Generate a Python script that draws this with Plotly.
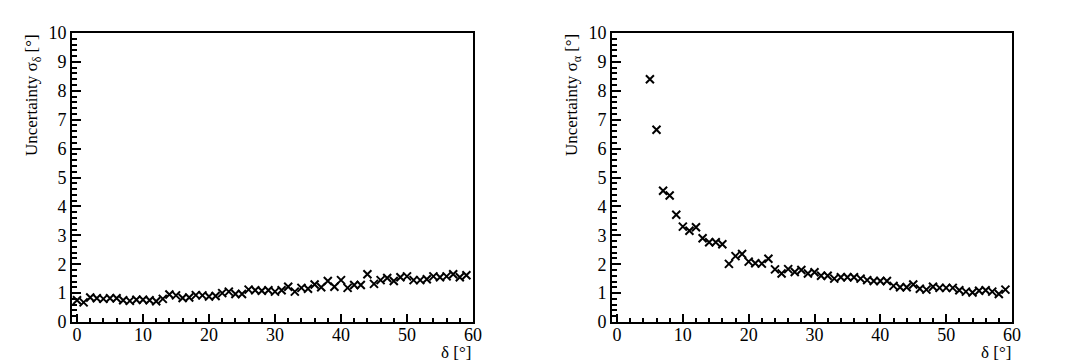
import plotly.graph_objects as go

# ---- data ----
delta_left = list(range(0, 60))
sigma_delta = [0.75, 0.68, 0.85, 0.82, 0.80, 0.82, 0.82, 0.75, 0.73, 0.77,
               0.77, 0.75, 0.72, 0.80, 0.95, 0.92, 0.83, 0.85, 0.93, 0.92,
               0.88, 0.90, 1.00, 1.05, 0.97, 0.97, 1.12, 1.10, 1.08, 1.10,
               1.05, 1.10, 1.22, 1.05, 1.18, 1.15, 1.30, 1.20, 1.42, 1.22,
               1.45, 1.18, 1.28, 1.28, 1.65, 1.32, 1.45, 1.52, 1.42, 1.55,
               1.58, 1.45, 1.45, 1.48, 1.58, 1.55, 1.58, 1.65, 1.55, 1.62]

delta_right = list(range(5, 60))
sigma_alpha = [8.40, 6.65, 4.54, 4.38, 3.71, 3.30, 3.16, 3.28, 2.90, 2.76,
               2.76, 2.69, 2.01, 2.28, 2.35, 2.09, 2.03, 2.02, 2.19, 1.82,
               1.68, 1.83, 1.73, 1.80, 1.68, 1.72, 1.60, 1.60, 1.50, 1.55,
               1.55, 1.55, 1.50, 1.45, 1.42, 1.42, 1.42, 1.25, 1.20, 1.20,
               1.30, 1.15, 1.12, 1.22, 1.18, 1.18, 1.18, 1.10, 1.05, 1.02,
               1.08, 1.10, 1.05, 0.97, 1.12]

x_ticks = [0, 10, 20, 30, 40, 50, 60]
y_ticks = list(range(0, 11))

W, H = 1074, 363
FONT = "Liberation Serif, Times New Roman, serif"

fig = go.Figure()
fig.add_trace(go.Scatter(x=delta_left, y=sigma_delta, mode="markers",
                         marker=dict(symbol="x-thin", size=8, color="black",
                                     line=dict(width=2, color="black")),
                         xaxis="x", yaxis="y", showlegend=False))
fig.add_trace(go.Scatter(x=delta_right, y=sigma_alpha, mode="markers",
                         marker=dict(symbol="x-thin", size=8, color="black",
                                     line=dict(width=2, color="black")),
                         xaxis="x2", yaxis="y2", showlegend=False))

ydom = [41 / H, 330 / H]

def xax(dom, anchor):
    return dict(domain=dom, range=[-0.76, 60.0], anchor=anchor, automargin=False,
                showline=True, linecolor="black", linewidth=2, mirror=True,
                ticks="inside", ticklen=8, tickwidth=2, tickcolor="black",
                tickvals=x_ticks, showgrid=False, zeroline=False,
                ticklabelstandoff=-5,
                tickfont=dict(family=FONT, size=18, color="black"),
                minor=dict(ticks="inside", ticklen=4, tickwidth=2,
                           tickcolor="black", dtick=2, showgrid=False))

def yax(anchor):
    return dict(domain=ydom, range=[0, 10], anchor=anchor, automargin=False,
                showline=True, linecolor="black", linewidth=2, mirror=True,
                ticks="inside", ticklen=9, tickwidth=2, tickcolor="black",
                tickvals=y_ticks, showgrid=False, zeroline=False,
                tickfont=dict(family=FONT, size=18, color="black"),
                minor=dict(ticks="inside", ticklen=5, tickwidth=2,
                           tickcolor="black", dtick=0.2, showgrid=False))

fig.update_layout(
    width=W, height=H,
    margin=dict(l=0, r=0, t=0, b=0, autoexpand=False),
    paper_bgcolor="white", plot_bgcolor="white",
    xaxis=xax([72 / W, 473 / W], "y"),
    yaxis=yax("x"),
    xaxis2=xax([612 / W, 1012 / W], "y2"),
    yaxis2=yax("x2"),
    font=dict(family=FONT, color="black"),
)

anns = [
    dict(text="Uncertainty σ<sub>δ</sub> [°]", x=33 / W, y=1 - 95 / H, textangle=-90),
    dict(text="Uncertainty σ<sub>α</sub> [°]", x=573 / W, y=1 - 95 / H, textangle=-90),
    dict(text="δ [°]", x=473 / W, y=1 - 352 / H, xanchor="right"),
    dict(text="δ [°]", x=1013 / W, y=1 - 352 / H, xanchor="right"),
]
for a in anns:
    base = dict(xref="paper", yref="paper", showarrow=False,
                font=dict(family=FONT, size=17, color="black"))
    if "xanchor" not in a:
        a["xanchor"] = "center"
    a["yanchor"] = "middle"
    base.update(a)
    fig.add_annotation(**base)

fig.write_html("out.html")
